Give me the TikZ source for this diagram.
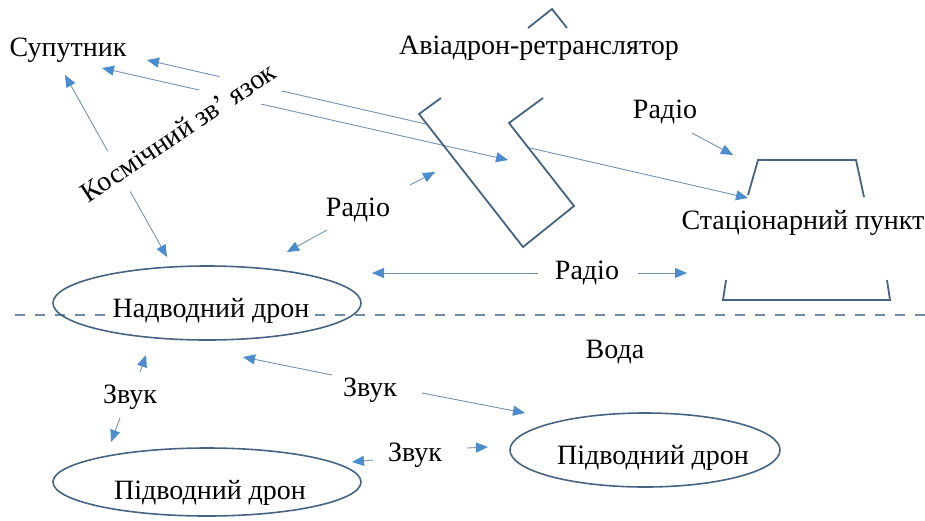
\documentclass[tikz,border=0pt]{standalone}
\usepackage{fontspec}
\setmainfont{Liberation Serif}
\usetikzlibrary{arrows.meta,positioning,calc}
\definecolor{shapeblue}{RGB}{70,100,130}
\definecolor{wire}{RGB}{120,145,172}
\definecolor{tipblue}{RGB}{74,140,205}
\definecolor{waterline}{RGB}{115,140,165}
\tikzset{
  txt/.style ={font=\fontsize{28}{32}\selectfont,inner sep=2pt},
  shp/.style ={draw=shapeblue,line width=1.8pt},
  ar/.style  ={draw=wire,line width=0.9pt,-{Triangle[length=12pt,width=10pt,color=tipblue]}},
  dar/.style ={draw=wire,line width=0.9pt,{Triangle[length=12pt,width=10pt,color=tipblue]}-{Triangle[length=12pt,width=10pt,color=tipblue]}},
  drn/.style ={draw=shapeblue,line width=1.6pt},
}
\begin{document}
\begin{tikzpicture}[x=1pt,y=-1pt]
\useasboundingbox (0,0) rectangle (925,520);
% water surface
\draw[waterline,line width=1.6pt,dash pattern=on 10pt off 10pt] (15,315) -- (925,315);
% labels
\node[txt] (sat) at (68,50) {Супутник};
\node[txt] (avi) at (539,48) {Авіадрон-ретранслятор};
\node[txt] (stat) at (803,223) {Стаціонарний пункт};
\node[txt] (voda) at (615,352) {Вода};
\node[txt] (rad1) at (665,112) {Радіо};
\node[txt] (rad2) at (358,210) {Радіо};
\node[txt] (rad3) at (587,273) {Радіо};
\node[txt] (zv1) at (130,397) {Звук};
\node[txt] (zv2) at (370,390) {Звук};
\node[txt] (zv3) at (415,455) {Звук};
% drones
\node[txt,fill=white] (nad) at (211,311) {Надводний дрон};
\draw[drn] (nad) ++(-4,-8) ellipse (154 and 37);
\node[txt] (pid1) at (210,493) {Підводний дрон};
\draw[drn] (pid1) ++(-3,-11) ellipse (154 and 34);
\node[txt] (pid2) at (653,458) {Підводний дрон};
\draw[drn] (pid2) ++(-8,-8) ellipse (135 and 37);
% arrow ends
\coordinate (s1) at (147,60);  \coordinate (st1) at (748,198);
\coordinate (s2) at (102,68);  \coordinate (a1) at (508,160);
\coordinate (s3) at (65,75);   \coordinate (n1) at (167,257);
% space links
\draw[dar] (s1) -- (st1);
\fill[white] (419,114) -- (523,247) -- (574,206) -- (509,123) -- cycle;
\draw[dar] (s2) -- (a1);
\draw[dar] (s3) -- (n1);
\node[txt,fill=white,rotate=33.7,inner sep=9pt,minimum height=46pt] (kos) at (178,132) {Космічний зв’ язок};
% relay drone
\draw[shp] (441,98) -- (419,114) -- (523,247) -- (574,206) -- (509,123) -- (543,98);
\draw[shp] (528,28) -- (552,9) -- (567,28);
% ground station
\draw[shp] (748,195) -- (758,160) -- (856,160) -- (864,197);
\draw[shp] (726,280) -- (723,300) -- (890,300) -- (887,280);
% radio
\coordinate (r1a) at (692,133); \coordinate (r1b) at (733,155);
\coordinate (r2a) at (327,230); \coordinate (r2b) at (287,252);
\coordinate (r2c) at (410,185); \coordinate (r2d) at (435,172);
\coordinate (r3a) at (538,273); \coordinate (r3b) at (372,273);
\coordinate (r3c) at (638,273); \coordinate (r3d) at (687,273);
\draw[ar] (r1a) -- (r1b);
\draw[ar] (r2a) -- (r2b); \draw[ar] (r2c) -- (r2d);
\draw[ar] (r3a) -- (r3b); \draw[ar] (r3c) -- (r3d);
% sound
\coordinate (z1a) at (140,372); \coordinate (z1b) at (146,355);
\coordinate (z1c) at (120,418); \coordinate (z1d) at (111,442);
\coordinate (z2a) at (332,375); \coordinate (z2b) at (243,357);
\coordinate (z2c) at (422,393); \coordinate (z2d) at (525,413);
\coordinate (z3a) at (373,460); \coordinate (z3b) at (352,462);
\coordinate (z3c) at (467,448); \coordinate (z3d) at (488,447);
\draw[ar] (z1a) -- (z1b); \draw[ar] (z1c) -- (z1d);
\draw[ar] (z2a) -- (z2b); \draw[ar] (z2c) -- (z2d);
\draw[ar] (z3a) -- (z3b); \draw[ar] (z3c) -- (z3d);
\end{tikzpicture}
\end{document}
